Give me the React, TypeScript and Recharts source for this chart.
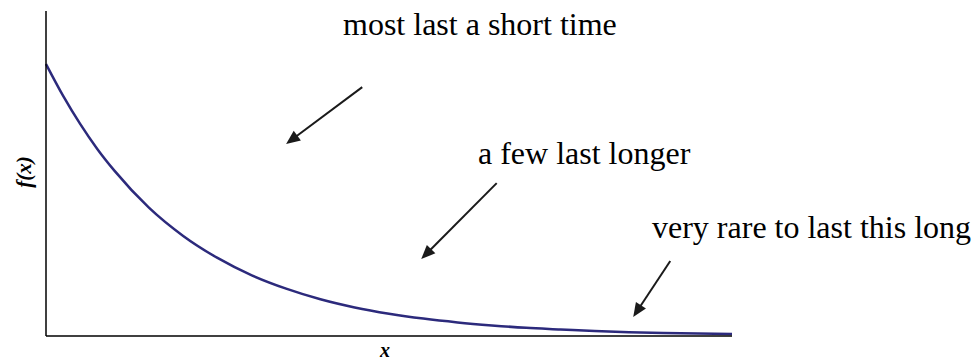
import React from 'react';
import { LineChart, Line, XAxis, YAxis, ReferenceLine } from 'recharts';

// curve, x in arbitrary units 0..10
const xs = [0, 0.25, 0.5, 0.75, 1, 1.5, 2, 2.5, 3, 3.5, 4, 4.5, 5, 5.5, 6, 6.5, 7, 7.5, 8, 8.5, 9, 9.5, 10];
const fx = [1.0, 0.883, 0.779, 0.687, 0.607, 0.472, 0.368, 0.287, 0.223, 0.174, 0.135, 0.105, 0.082, 0.064, 0.05, 0.039, 0.03, 0.024, 0.018, 0.014, 0.011, 0.009, 0.007];

// annotation arrows in data coordinates: [fromX, fromY, toX, toY]
const arrows = [
  [4.61, 0.915, 3.5, 0.706],
  [6.57, 0.562, 5.47, 0.283],
  [9.1, 0.276, 8.56, 0.07],
];

const notes = [
  { text: 'most last a short time', x: 343, y: 35 },
  { text: 'a few last longer', x: 478, y: 164 },
  { text: 'very rare to last this long', x: 652, y: 238 },
];

const data = xs.map((x, i) => ({ x, f: fx[i] }));

const W = 972;
const H = 361;
const serif = '"Liberation Serif", "DejaVu Serif", serif';

const Arrow = (props: any) => {
  const { x1, y1, x2, y2 } = props;
  const dx = x2 - x1;
  const dy = y2 - y1;
  const len = Math.sqrt(dx * dx + dy * dy) || 1;
  const ux = dx / len;
  const uy = dy / len;
  const head = 14;
  const half = 6;
  const bx = x2 - ux * head;
  const by = y2 - uy * head;
  const pts = `${x2},${y2} ${bx - uy * half},${by + ux * half} ${bx + uy * half},${by - ux * half}`;
  return (
    <g>
      <line x1={x1} y1={y1} x2={bx + ux * 2} y2={by + uy * 2} stroke="#1a1a1a" strokeWidth={2} />
      <polygon points={pts} fill="#1a1a1a" />
    </g>
  );
};

const App = () => {
  return (
    <div style={{ position: 'absolute', left: 0, top: 0, width: W, height: H, background: '#fff', fontFamily: serif }}>
      <LineChart width={W} height={H} data={data} margin={{ top: 11, right: 240, bottom: 0, left: 0 }}>
        <XAxis
          dataKey="x"
          type="number"
          domain={[0, 10]}
          tick={false}
          tickLine={false}
          height={25}
          axisLine={{ stroke: '#000', strokeWidth: 1.5 }}
        />
        <YAxis
          type="number"
          domain={[0, 1.195]}
          tick={false}
          tickLine={false}
          width={46}
          axisLine={{ stroke: '#000', strokeWidth: 1.5 }}
        />
        <Line
          type="monotone"
          dataKey="f"
          stroke="#2c2a7c"
          strokeWidth={2.5}
          dot={false}
          isAnimationActive={false}
        />
        {arrows.map((a, i) => (
          <ReferenceLine
            key={i}
            segment={[{ x: a[0], y: a[1] }, { x: a[2], y: a[3] }]}
            ifOverflow="visible"
            shape={<Arrow />}
          />
        ))}
      </LineChart>
      <svg width={W} height={H} style={{ position: 'absolute', left: 0, top: 0, pointerEvents: 'none' }}>
        {notes.map((n) => (
          <text key={n.text} x={n.x} y={n.y} fontFamily={serif} fontSize={32} fill="#000">
            {n.text}
          </text>
        ))}
        <text x={385} y={357} textAnchor="middle" fontFamily={serif} fontSize={20} fontWeight={700} fontStyle="italic" fill="#000">
          x
        </text>
        <text
          x={0}
          y={0}
          transform="translate(31,172) rotate(-90)"
          textAnchor="middle"
          fontFamily={serif}
          fontSize={21}
          fontWeight={700}
          fontStyle="italic"
          fill="#000"
        >
          f(x)
        </text>
      </svg>
    </div>
  );
};

export default App;
